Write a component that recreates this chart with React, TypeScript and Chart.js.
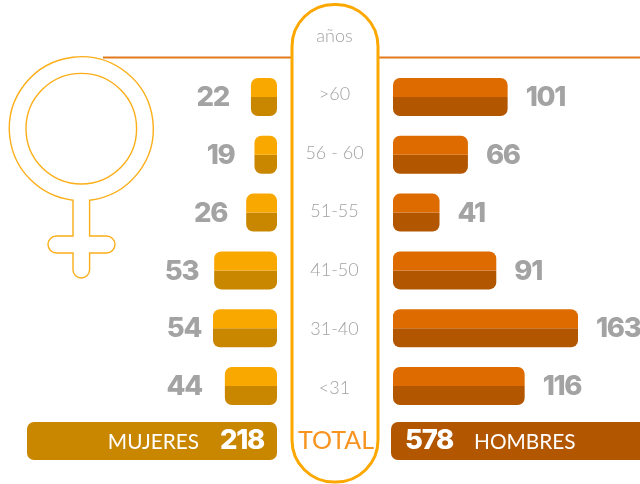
import React, { useEffect, useRef } from "react";
import { Chart, registerables } from "chart.js";

Chart.register(...registerables);

const ageGroups = [">60", "56 - 60", "51-55", "41-50", "31-40", "<31"];
const women = [22, 19, 26, 53, 54, 44];
const men = [101, 66, 41, 91, 163, 116];
const womenTotal = 218;
const menTotal = 578;
const axisTitle = "años";
const totalLabel = "TOTAL";
const womenLabel = "MUJERES";
const menLabel = "HOMBRES";

const GRAY = "#a3a3a3";
const THIN = "#a2a2a2";
const W_LIGHT = "#f9a800";
const W_DARK = "#c98700";
const M_LIGHT = "#de6b00";
const M_DARK = "#b25600";
const FONT = "Lato, sans-serif";
const NUM_FONT = "Inter, sans-serif";

const WIDTH = 640;
const HEIGHT = 484;
const W_ZERO = 277;
const M_ZERO = 393;
const W_SCALE = 1.185;
const M_SCALE = 1.135;
const R = 7;
// gap between each women's bar and its number, as in the reference
const W_LABEL_GAPS = [22, 20, 19, 16, 12, 23];

function rr(ctx: CanvasRenderingContext2D, x: number, y: number, w: number, h: number, r: number) {
  ctx.beginPath();
  ctx.roundRect(x, y, w, h, r);
}

const decor = {
  id: "decor",
  beforeDatasetsDraw(chart: any) {
    const ctx: CanvasRenderingContext2D = chart.ctx;
    ctx.save();
    // horizontal rule
    ctx.strokeStyle = "#e27a1c";
    ctx.lineWidth = 2;
    ctx.beginPath();
    ctx.moveTo(103, 57.5);
    ctx.lineTo(WIDTH, 57.5);
    ctx.stroke();

    // venus symbol
    const cx = 81.3, cy = 128.7, ro = 72, ri = 55.3, s = 8.3;
    ctx.strokeStyle = "#fbae18";
    ctx.lineWidth = 1.4;
    ctx.fillStyle = "#fff";
    const a = Math.asin(s / ro);
    ctx.beginPath();
    ctx.arc(cx, cy, ro, Math.PI / 2 - a, Math.PI / 2 + a, true);
    ctx.lineTo(cx - s, 236);
    ctx.lineTo(57, 236);
    ctx.arc(56.5, 244.5, 8.5, -Math.PI / 2, Math.PI / 2, true);
    ctx.lineTo(cx - s, 253);
    ctx.lineTo(cx - s, 269.7);
    ctx.arc(cx, 269.7, s, Math.PI, 0, true);
    ctx.lineTo(cx + s, 253);
    ctx.lineTo(106.5, 253);
    ctx.arc(106.5, 244.5, 8.5, Math.PI / 2, -Math.PI / 2, true);
    ctx.lineTo(cx + s, 236);
    ctx.closePath();
    ctx.fill();
    ctx.stroke();
    ctx.beginPath();
    ctx.arc(cx, cy, ri, 0, Math.PI * 2);
    ctx.stroke();

    // central capsule
    ctx.fillStyle = "#fff";
    ctx.strokeStyle = "#fca800";
    ctx.lineWidth = 3;
    rr(ctx, 292, 4.5, 86, 477.5, 42);
    ctx.fill();
    ctx.stroke();

    // totals bars
    ctx.fillStyle = W_DARK;
    rr(ctx, 27, 422, 250, 38, R);
    ctx.fill();
    ctx.fillStyle = M_DARK;
    rr(ctx, 391, 422, 270, 38, R);
    ctx.fill();
    ctx.restore();
  },
  afterDatasetsDraw(chart: any) {
    const ctx: CanvasRenderingContext2D = chart.ctx;
    const y = chart.scales.y;
    ctx.save();
    ctx.textBaseline = "middle";

    // age labels
    ctx.textAlign = "center";
    ctx.fillStyle = THIN;
    ctx.font = `300 18px ${FONT}`;
    ctx.fillText(axisTitle, 334.5, 36);
    ageGroups.forEach((g, i) => ctx.fillText(g, 334.5, y.getPixelForValue(i) - 3 + i * 0.95));

    // value labels
    ctx.fillStyle = GRAY;
    ctx.font = `800 27.5px ${NUM_FONT}`;
    (ctx as any).letterSpacing = "-1.3px";
    const wEls = chart.getDatasetMeta(0).data;
    const mEls = chart.getDatasetMeta(2).data;
    ctx.textAlign = "right";
    women.forEach((v, i) => ctx.fillText(String(v), wEls[i].x - W_LABEL_GAPS[i], y.getPixelForValue(i) + 1));
    ctx.textAlign = "left";
    men.forEach((v, i) => ctx.fillText(String(v), mEls[i].x + 18, y.getPixelForValue(i) + 1));
    (ctx as any).letterSpacing = "0px";

    // totals text
    ctx.fillStyle = "#fff";
    ctx.font = `400 20.8px ${FONT}`;
    ctx.textAlign = "right";
    ctx.fillText(womenLabel, 199, 442);
    ctx.textAlign = "left";
    ctx.fillText(menLabel, 474, 442);
    ctx.font = `800 27.5px ${NUM_FONT}`;
    (ctx as any).letterSpacing = "-1.3px";
    ctx.textAlign = "right";
    ctx.fillText(String(womenTotal), 264, 441);
    ctx.textAlign = "left";
    ctx.fillText(String(menTotal), 405, 441);
    (ctx as any).letterSpacing = "0px";

    ctx.fillStyle = "#f7931e";
    ctx.font = `400 25px ${FONT}`;
    ctx.textAlign = "center";
    ctx.fillText(totalLabel, 336, 441);
    ctx.restore();
  },
};

export default function App() {
  const ref = useRef<HTMLCanvasElement>(null);
  useEffect(() => {
    const top = { topLeft: R, topRight: R, bottomLeft: 0, bottomRight: 0 };
    const bottom = { topLeft: 0, topRight: 0, bottomLeft: R, bottomRight: R };
    const common = { borderSkipped: false, inflateAmount: 0, categoryPercentage: 38 / 57.8, barPercentage: 1 };
    const chart = new Chart(ref.current!, {
      type: "bar",
      data: {
        labels: ageGroups,
        datasets: [
          { ...common, label: "Mujeres", data: women, xAxisID: "xW", stack: "a", backgroundColor: W_LIGHT, borderRadius: top },
          { ...common, label: "Mujeres ", data: women, xAxisID: "xW", stack: "b", backgroundColor: W_DARK, borderRadius: bottom },
          { ...common, label: "Hombres", data: men, xAxisID: "xM", stack: "a", backgroundColor: M_LIGHT, borderRadius: top },
          { ...common, label: "Hombres ", data: men, xAxisID: "xM", stack: "b", backgroundColor: M_DARK, borderRadius: bottom },
        ],
      } as any,
      options: {
        indexAxis: "y",
        animation: false,
        responsive: false,
        layout: { padding: { top: 68.1, bottom: HEIGHT - 414.9, left: 0, right: 0 } },
        plugins: { legend: { display: false }, tooltip: { enabled: false } },
        scales: {
          y: { type: "category", display: false, offset: true, grid: { display: false } },
          xW: {
            type: "linear",
            display: false,
            stacked: false,
            reverse: true,
            min: -(WIDTH - W_ZERO) / W_SCALE,
            max: W_ZERO / W_SCALE,
          },
          xM: {
            type: "linear",
            display: false,
            stacked: false,
            min: -M_ZERO / M_SCALE,
            max: (WIDTH - M_ZERO) / M_SCALE,
          },
        },
      } as any,
      plugins: [decor],
    });
    return () => chart.destroy();
  }, []);
  return (
    <div style={{ position: "fixed", left: 0, top: 0, width: WIDTH, height: HEIGHT, background: "#fff" }}>
      <canvas ref={ref} width={WIDTH} height={HEIGHT} style={{ display: "block" }} />
    </div>
  );
}
